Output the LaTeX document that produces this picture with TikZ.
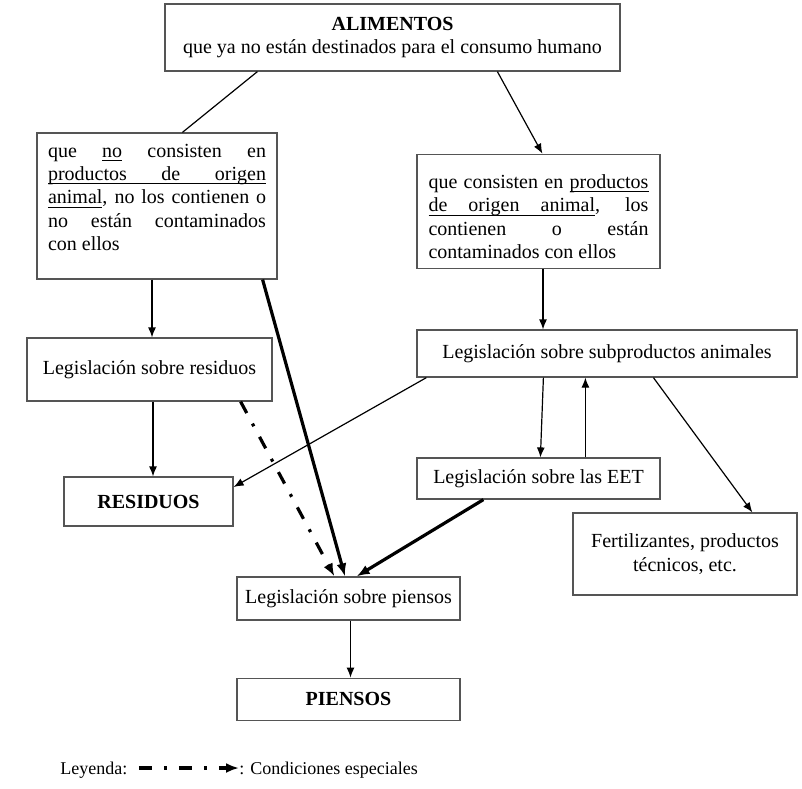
\documentclass[tikz,border=0pt]{standalone}
\usepackage{fontspec}
\setmainfont{Liberation Serif}
\usetikzlibrary{arrows.meta,positioning,calc}
\definecolor{ink}{HTML}{000000}
\definecolor{frame}{HTML}{555555}
\hyphenpenalty=10000
\exhyphenpenalty=10000
\hbadness=10000
\newcommand\ulword[1]{\setbox0\hbox{#1}\rlap{\vrule height -1.4pt depth 1.8pt width\wd0}\box0\relax}
\newcommand\ulsp{\leaders\hrule height -1.4pt depth 1.8pt\hskip\fontdimen2\font plus\fontdimen3\font minus\fontdimen4\font\relax}
\tikzset{
  base/.style={font=\fontsize{10}{11.7}\selectfont,align=center,draw=frame,line width=0.6pt,fill=white,inner sep=2pt},
  textbox/.style={base,align=justify,inner xsep=5.5pt,inner ysep=5pt},
  link/.style={line width=0.6pt,draw=ink},
  flow/.style={link,-{Latex[length=5pt,width=4pt]}},
  heavy/.style={-{Latex[length=6.5pt,width=5pt]},line width=1.6pt,draw=ink},
  special/.style={heavy,dash pattern=on 6.5pt off 6pt on 1.5pt off 6pt},
  legendtext/.style={font=\fontsize{9}{11}\selectfont,inner sep=0pt,anchor=base west}
}

\begin{document}
\begin{tikzpicture}[x=0.5pt,y=-0.5pt]
\useasboundingbox (0,0) rectangle (802,788);

\node[base,minimum width=227.5pt,minimum height=33.5pt] (alimentos) at (392.5,37.5) {\textbf{ALIMENTOS}\\que ya no están destinados para el consumo humano};
\node[textbox,text width=109pt,minimum width=120pt,minimum height=73pt,text height=7pt,text depth=56pt] (noanimal) at (157,206) {que \ulword{no} consisten en\linebreak \ulword{productos}\ulsp\ulword{de}\ulsp\ulword{origen}\linebreak\ulword{animal}, no los contienen o\linebreak no están contaminados\linebreak con ellos};
\node[textbox,text width=110pt,minimum width=121.5pt,minimum height=56.5pt,text height=12pt] (animal) at (538.5,211.5) {que consisten en \ulword{productos}\linebreak\ulword{de}\ulsp\ulword{origen}\ulsp\ulword{animal}, los\linebreak contienen o están\linebreak contaminados con ellos};

\node[base,minimum width=122.5pt,minimum height=31.5pt] (legresiduos) at (149.5,369.5) {Legislación sobre residuos};
\node[base,minimum width=84.5pt,minimum height=24.5pt] (residuos) at (148.5,501.5) {\textbf{RESIDUOS}};
\node[base,minimum width=190pt,minimum height=23.5pt] (legsubprod) at (607,353.5) {Legislación sobre subproductos animales};
\node[base,minimum width=121.5pt,minimum height=20.5pt] (legeet) at (538.5,478.5) {Legislación sobre las EET};
\node[base,minimum width=112pt,minimum height=41pt] (fertil) at (685,554) {Fertilizantes, productos\\técnicos, etc.};
\node[base,minimum width=111.5pt,minimum height=21.5pt] (legpiensos) at (348.5,598.5) {Legislación sobre piensos};
\node[base,minimum width=111.5pt,minimum height=21pt,below=28.5pt of legpiensos] (piensos) {\textbf{PIENSOS}};

\node[legendtext] (leyenda) at (60,774) {Leyenda:};
\node[legendtext] (especial) at (239,774) {: Condiciones especiales};

\draw[link] ([xshift=46.5pt]alimentos.south west) -- ([xshift=73pt]noanimal.north west);
\draw[flow] ([xshift=166.5pt]alimentos.south west) -- ([xshift=63pt]animal.north west);
\draw[flow] ([xshift=-2.5pt]noanimal.south) -- ([xshift=-2.5pt]noanimal.south |- legresiduos.north);
\draw[heavy] ([xshift=-7.5pt]noanimal.south east) -- ([xshift=-1.75pt]legpiensos.north);
\draw[flow] ([xshift=2.25pt]animal.south) -- ([xshift=2.25pt]animal.south |- legsubprod.north);
\draw[flow] ([xshift=5pt]legsubprod.south west) -- ([yshift=7.25pt]residuos.east);
\draw[flow] ([xshift=63.5pt]legsubprod.south west) -- ([xshift=62pt]legeet.north west);
\draw[flow] ([xshift=84.5pt]legeet.north west) -- ([xshift=84.5pt]legeet.north west |- legsubprod.south);
\draw[flow] ([xshift=118.5pt]legsubprod.south west) -- ([xshift=90pt]fertil.north west);
\draw[flow] ([xshift=1.75pt]legresiduos.south) -- ([xshift=1.75pt]legresiduos.south |- residuos.north);
\draw[special] ([xshift=-16pt]legresiduos.south east) -- ([xshift=49pt]legpiensos.north west);
\draw[heavy] ([xshift=33.5pt]legeet.south west) -- ([xshift=-52pt]legpiensos.north east);
\draw[flow] ([xshift=1pt]legpiensos.south) -- ([xshift=1pt]piensos.north);
\draw[special] ([xshift=5.5pt,yshift=3pt]leyenda.base east) -- ([yshift=3pt]especial.base west);
\end{tikzpicture}
\end{document}
